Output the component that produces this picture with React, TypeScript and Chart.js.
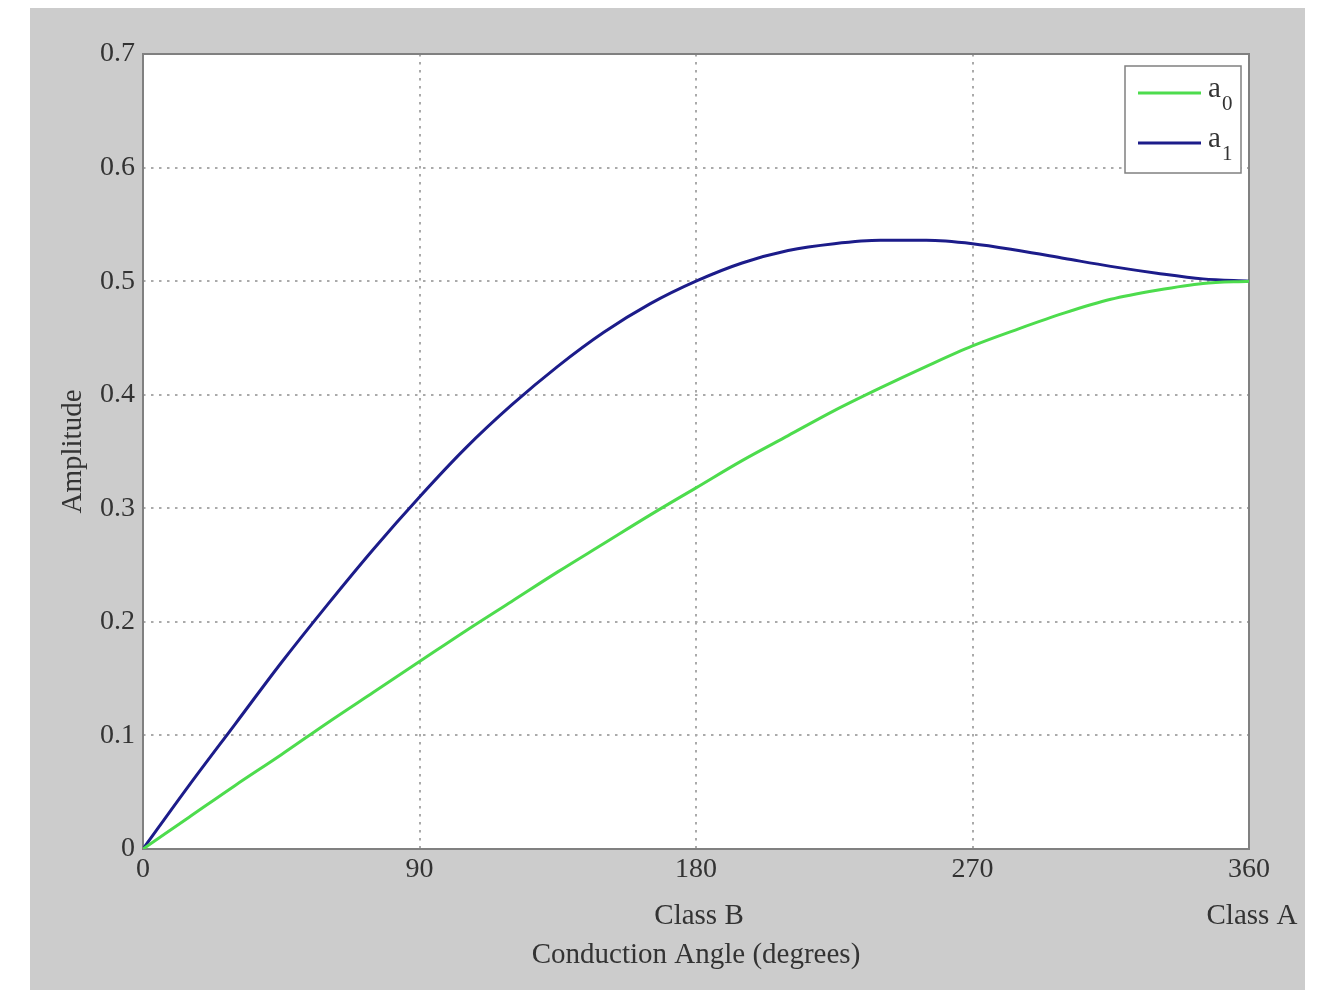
import React, { useEffect, useRef } from "react";
import { Chart, registerables } from "chart.js";

Chart.register(...registerables);

const angles = [0, 15, 30, 45, 60, 75, 90, 105, 120, 135, 150, 165, 180, 195, 210, 225, 240, 255, 270, 285, 300, 315, 330, 345, 360];
const a0Values = [0, 0.028, 0.056, 0.083, 0.111, 0.138, 0.165, 0.192, 0.218, 0.244, 0.269, 0.294, 0.318, 0.342, 0.364, 0.386, 0.406, 0.425, 0.443, 0.458, 0.472, 0.484, 0.492, 0.498, 0.5];
const a1Values = [0, 0.056, 0.110, 0.164, 0.215, 0.264, 0.310, 0.353, 0.391, 0.425, 0.455, 0.480, 0.5, 0.516, 0.527, 0.533, 0.536, 0.536, 0.533, 0.527, 0.520, 0.513, 0.507, 0.502, 0.5];
const xTickStep = 90;
const yTickStep = 0.1;
const seriesNames = ["a", "a"];
const seriesSubs = ["0", "1"];
const seriesColors = ["#4ddc4d", "#1c1c8a"];
const classLabels = [
  { at: 180, text: "Class B" },
  { at: 360, text: "Class A" },
];
const xTitle = "Conduction Angle (degrees)";
const yTitle = "Amplitude";

const FONT = "'Liberation Serif', 'Times New Roman', serif";

const decorPlugin = {
  id: "decor",
  beforeDraw(chart: any) {
    const { ctx, chartArea } = chart;
    ctx.save();
    ctx.fillStyle = "#ffffff";
    ctx.fillRect(0, 0, chart.width, chart.height);
    ctx.fillStyle = "#cccccc";
    ctx.fillRect(30, 8, 1275, 982);
    ctx.fillStyle = "#ffffff";
    ctx.fillRect(chartArea.left, chartArea.top, chartArea.right - chartArea.left, chartArea.bottom - chartArea.top);
    ctx.restore();
  },
  beforeDatasetsDraw(chart: any) {
    const { ctx, chartArea } = chart;
    ctx.save();
    ctx.strokeStyle = "#808080";
    ctx.lineWidth = 2;
    ctx.strokeRect(chartArea.left, chartArea.top, chartArea.right - chartArea.left, chartArea.bottom - chartArea.top);
    ctx.restore();
  },
  afterDatasetsDraw(chart: any) {
    const { ctx, chartArea } = chart;
    const xs = chart.scales.x;
    ctx.save();
    // legend box
    const bx = 1125, by = 66, bw = 116, bh = 107;
    ctx.fillStyle = "#ffffff";
    ctx.fillRect(bx, by, bw, bh);
    ctx.strokeStyle = "#808080";
    ctx.lineWidth = 1.5;
    ctx.strokeRect(bx, by, bw, bh);
    const rows = [93, 143];
    rows.forEach((yy, i) => {
      ctx.strokeStyle = seriesColors[i];
      ctx.lineWidth = 3;
      ctx.beginPath();
      ctx.moveTo(bx + 13, yy);
      ctx.lineTo(bx + 76, yy);
      ctx.stroke();
      ctx.fillStyle = "#333333";
      ctx.textAlign = "left";
      ctx.textBaseline = "alphabetic";
      ctx.font = `29px ${FONT}`;
      ctx.fillText(seriesNames[i], bx + 83, yy + 4);
      ctx.font = `21px ${FONT}`;
      ctx.fillText(seriesSubs[i], bx + 97, yy + 17);
    });
    // extra labels
    ctx.fillStyle = "#333333";
    ctx.font = `29px ${FONT}`;
    ctx.textAlign = "center";
    ctx.textBaseline = "middle";
    classLabels.forEach((c) => {
      ctx.fillText(c.text, xs.getPixelForValue(c.at) + 3, 916);
    });
    ctx.fillText(xTitle, (chartArea.left + chartArea.right) / 2, 955);
    ctx.translate(73, (chartArea.top + chartArea.bottom) / 2);
    ctx.rotate(-Math.PI / 2);
    ctx.fillText(yTitle, 0, 0);
    ctx.restore();
  },
};

export default function App() {
  const ref = useRef<HTMLCanvasElement>(null);
  useEffect(() => {
    if (!ref.current) return;
    const chart = new Chart(ref.current, {
      type: "line",
      data: {
        datasets: [
          {
            label: "a0",
            data: angles.map((x, i) => ({ x, y: a0Values[i] })),
            borderColor: seriesColors[0],
            borderWidth: 3,
            pointRadius: 0,
            cubicInterpolationMode: "monotone",
            fill: false,
          },
          {
            label: "a1",
            data: angles.map((x, i) => ({ x, y: a1Values[i] })),
            borderColor: seriesColors[1],
            borderWidth: 3,
            pointRadius: 0,
            cubicInterpolationMode: "monotone",
            fill: false,
          },
        ],
      },
      options: {
        animation: false,
        responsive: false,
        events: [],
        layout: { padding: { left: 0, top: 54, right: 71, bottom: 0 } },
        plugins: { legend: { display: false }, tooltip: { enabled: false }, title: { display: false } },
        scales: {
          x: {
            type: "linear",
            min: 0,
            max: 360,
            afterFit: (s: any) => { s.height = 153; },
            ticks: {
              stepSize: xTickStep,
              color: "#333333",
              font: { family: FONT, size: 28 },
              padding: 4,
              maxRotation: 0,
            },
            grid: { color: "#aaaaaa", lineWidth: 2, drawTicks: false },
            border: { display: false, dash: [2.5, 5.5] },
          },
          y: {
            type: "linear",
            min: 0,
            max: 0.7,
            afterFit: (s: any) => { s.width = 143; },
            ticks: {
              stepSize: yTickStep,
              color: "#333333",
              font: { family: FONT, size: 28 },
              padding: 8,
              callback: (v: any) => (Number(v) === 0 ? "0" : Number(v).toFixed(1)),
            },
            grid: { color: "#aaaaaa", lineWidth: 2, drawTicks: false },
            border: { display: false, dash: [2.5, 5.5] },
          },
        },
      },
      plugins: [decorPlugin],
    } as any);
    return () => chart.destroy();
  }, []);
  return (
    <div style={{ position: "absolute", left: 0, top: 0, width: 1320, height: 1002 }}>
      <canvas ref={ref} width={1320} height={1002} style={{ display: "block" }} />
    </div>
  );
}
